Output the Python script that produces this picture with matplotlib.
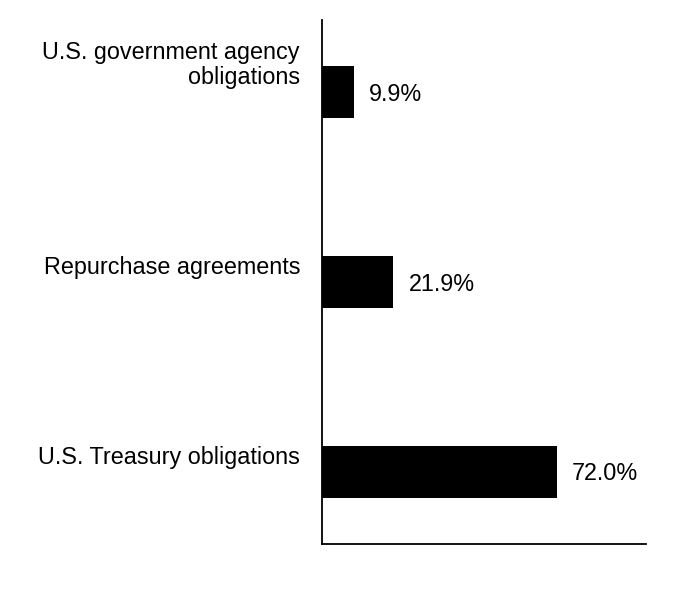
import matplotlib
matplotlib.use("Agg")
import matplotlib.pyplot as plt
import matplotlib.transforms as mtransforms

categories = ["U.S. Treasury obligations", "Repurchase agreements",
              "U.S. government agency\nobligations"]
values = [72.0, 21.9, 9.9]
value_labels = ["72.0%", "21.9%", "9.9%"]

plt.rcParams['font.family'] = ['Liberation Sans', 'DejaVu Sans']
FS = 16.8

fig = plt.figure(figsize=(6.96, 6.12), dpi=100)
ax = fig.add_axes([322/696, (612-544)/612, (646-322)/696, (544-20)/612])

ypos = list(range(len(categories)))
ax.barh(ypos, values, height=0.274, color='black')
ax.set_xlim(0, 99.3)
ax.set_ylim(-0.379, 2.379)

ax.set_xticks([])
ax.set_yticks([])
for s in ['top', 'right']:
    ax.spines[s].set_visible(False)
for s in ['left', 'bottom']:
    ax.spines[s].set_linewidth(1.3)
    ax.spines[s].set_color('black')

for y, lab in zip(ypos, categories):
    tr = mtransforms.offset_copy(ax.get_yaxis_transform(), fig=fig, x=-22, y=3, units='dots')
    ax.text(0, y, lab, transform=tr, ha='right', va='bottom', fontsize=FS,
            linespacing=1.1)

for y, v, lab in zip(ypos, values, value_labels):
    tr = mtransforms.offset_copy(ax.transData, fig=fig, x=15, y=-2, units='dots')
    ax.text(v, y, lab, transform=tr, ha='left', va='center', fontsize=FS)

fig.savefig("out.png", dpi=100)
